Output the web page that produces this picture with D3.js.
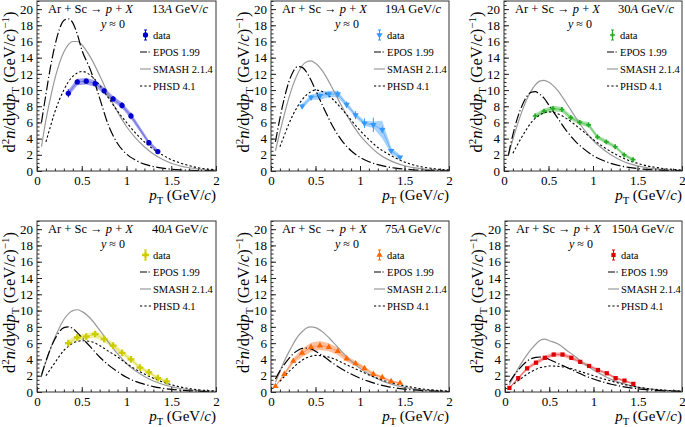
<!DOCTYPE html>
<html><head><meta charset="utf-8">
<script src="https://cdn.jsdelivr.net/npm/d3@7"></script>
<style>
body{margin:0;background:#fff}
svg{display:block}
text{font-family:"Liberation Serif","Times New Roman",serif;fill:#000}
</style>
</head><body>
<svg id="c" width="685" height="427"></svg>
<script>
// ---------- DATA ----------
const modelPt = [0.05,0.1,0.15,0.2,0.25,0.3,0.35,0.4,0.45,0.5,0.6,0.7,0.8,0.9,1.0,1.1,1.2,1.3,1.4,1.5,1.6,1.7,1.8,1.9,2.0];

const epos13  = [6.0,9.5,12.8,15.5,17.5,18.6,18.8,18.3,16.9,15.0,12.4,9.0,5.6,3.4,2.1,1.35,0.85,0.55,0.35,0.22,0.14,0.09,0.06,0.04,0.02];
const smash13 = [3.0,6.3,9.0,11.4,13.3,14.7,15.6,16.0,16.0,15.6,14.0,11.8,9.4,7.3,5.5,4.1,3.0,2.1,1.45,0.95,0.62,0.4,0.25,0.15,0.1];
const phsd13  = [null,3.6,5.5,7.3,8.8,10.0,11.0,11.7,12.1,12.3,11.8,10.6,9.0,7.4,6.0,4.7,3.6,2.7,2.0,1.4,1.0,0.65,0.4,0.25,0.15];

const epos19  = [3.6,6.5,9.0,11.0,12.3,12.9,12.8,12.2,11.2,10.0,7.6,5.4,3.7,2.5,1.7,1.15,0.78,0.52,0.35,0.23,0.15,0.1,0.06,0.04,0.03];
const smash19 = [2.5,4.8,7.0,9.0,10.7,12.0,13.0,13.5,13.6,13.3,12.0,10.0,7.9,6.0,4.4,3.2,2.2,1.5,1.0,0.65,0.42,0.27,0.17,0.11,0.07];
const phsd19  = [null,3.0,4.4,5.8,7.0,8.0,8.8,9.4,9.8,10.0,9.7,8.8,7.6,6.3,5.0,3.9,2.9,2.2,1.6,1.1,0.75,0.5,0.33,0.2,0.13];

const epos30  = [2.0,4.5,6.5,8.0,9.1,9.7,9.8,9.5,9.0,8.2,6.6,5.0,3.7,2.7,1.9,1.35,0.95,0.65,0.45,0.3,0.2,0.13,0.08,0.05,0.03];
const smash30 = [2.0,3.9,5.7,7.3,8.7,9.8,10.6,11.1,11.2,11.0,10.0,8.4,6.7,5.1,3.8,2.8,2.0,1.4,0.95,0.63,0.42,0.27,0.18,0.11,0.07];
const phsd30  = [null,2.2,3.2,4.2,5.1,5.9,6.5,6.9,7.2,7.3,7.1,6.5,5.7,4.8,3.9,3.1,2.4,1.8,1.3,0.95,0.65,0.45,0.3,0.2,0.12];

const epos40  = [2.0,3.8,5.3,6.5,7.4,7.9,8.0,7.8,7.3,6.7,5.5,4.3,3.3,2.5,1.8,1.3,0.95,0.67,0.47,0.32,0.22,0.15,0.1,0.06,0.04];
const smash40 = [2.2,3.7,5.3,6.7,7.9,8.9,9.6,10.0,10.1,9.9,9.0,7.6,6.1,4.7,3.5,2.6,1.9,1.35,0.95,0.65,0.43,0.28,0.18,0.12,0.08];
const phsd40  = [null,2.0,2.8,3.6,4.4,5.1,5.6,6.0,6.2,6.3,6.2,5.7,5.0,4.3,3.5,2.8,2.2,1.7,1.25,0.9,0.62,0.42,0.28,0.18,0.12];

const epos75  = [1.6,2.6,3.4,4.1,4.7,5.1,5.35,5.4,5.3,5.0,4.3,3.5,2.8,2.2,1.7,1.3,0.95,0.7,0.5,0.36,0.25,0.17,0.12,0.08,0.05];
const smash75 = [1.2,2.5,3.8,4.9,5.9,6.8,7.4,7.85,8.0,7.9,7.2,6.1,4.9,3.8,2.9,2.2,1.6,1.15,0.82,0.57,0.39,0.26,0.17,0.11,0.07];
const phsd75  = [null,1.3,1.9,2.5,3.0,3.5,3.9,4.2,4.4,4.5,4.4,4.1,3.6,3.1,2.6,2.1,1.65,1.3,1.0,0.75,0.55,0.38,0.26,0.17,0.11];

const epos150  = [1.2,2.0,2.7,3.3,3.8,4.1,4.25,4.3,4.25,4.0,3.5,3.0,2.5,2.0,1.6,1.25,0.95,0.72,0.54,0.4,0.29,0.2,0.14,0.1,0.07];
const smash150 = [0.9,1.9,2.9,3.8,4.6,5.3,5.9,6.35,6.5,6.3,5.9,5.1,4.3,3.4,2.7,2.1,1.55,1.15,0.85,0.6,0.42,0.29,0.2,0.13,0.09];
const phsd150  = [null,1.0,1.4,1.8,2.2,2.5,2.8,3.0,3.1,3.2,3.15,3.0,2.7,2.35,2.0,1.65,1.35,1.05,0.8,0.6,0.44,0.32,0.22,0.15,0.1];

const dataPt13 = [0.35,0.45,0.55,0.65,0.75,0.85,0.95,1.05,1.25,1.35];
const data13   = [9.6,11.0,11.1,10.8,9.9,8.9,8.1,6.8,3.5,2.4];
const stat13   = [0.5,0.3,0.3,0.3,0.3,0.3,0.4,0.4,0.3,0.3];
const sys13    = [0.4,0.4,0.4,0.4,0.4,0.35,0.35,0.35,0.3,0.3];

const dataPt19 = [0.35,0.45,0.55,0.65,0.75,0.85,0.95,1.05,1.15,1.25,1.35,1.45];
const data19   = [8.0,9.1,9.3,9.5,9.5,8.2,6.9,5.9,5.7,5.1,2.5,1.7];
const stat19   = [0.3,0.3,0.3,0.3,0.4,0.4,0.5,0.6,0.9,0.4,0.2,0.2];
const sys19    = [0.3,0.3,0.5,0.4,0.4,0.3,0.3,0.3,0.4,1.1,0.4,0.3];

const dataPt30 = [0.35,0.45,0.55,0.65,0.75,0.85,0.95,1.05,1.15,1.25,1.35,1.45];
const data30   = [6.8,7.4,7.7,7.6,6.6,6.0,5.7,4.2,3.6,3.0,2.0,1.4];
const stat30   = [0.25,0.25,0.25,0.25,0.25,0.25,0.3,0.25,0.25,0.25,0.2,0.2];
const sys30    = [0.3,0.3,0.35,0.3,0.3,0.3,0.3,0.25,0.25,0.2,0.2,0.2];

const dataPt40 = [0.35,0.45,0.55,0.65,0.75,0.85,0.95,1.05,1.15,1.25,1.35,1.45];
const data40   = [6.0,6.7,6.8,7.1,6.5,5.7,4.8,4.0,3.0,2.4,1.7,1.3];
const stat40   = [0.3,0.25,0.25,0.25,0.25,0.25,0.25,0.25,0.2,0.2,0.2,0.2];
const sys40    = [0.35,0.35,0.35,0.4,0.35,0.35,0.3,0.3,0.25,0.2,0.2,0.2];

const dataPt75 = [0.05,0.15,0.25,0.35,0.45,0.55,0.65,0.75,0.85,0.95,1.05,1.15,1.25,1.35,1.45];
const data75   = [0.7,2.2,3.8,4.8,5.5,5.7,5.5,5.0,4.1,3.5,2.9,2.2,1.8,1.3,1.1];
const stat75   = [0.1,0.15,0.2,0.2,0.2,0.2,0.2,0.2,0.2,0.15,0.15,0.15,0.15,0.1,0.1];
const sys75    = [0.1,0.2,0.3,0.5,0.55,0.55,0.5,0.45,0.35,0.3,0.25,0.2,0.15,0.15,0.1];

const dataPt150 = [0.05,0.15,0.25,0.35,0.45,0.55,0.65,0.75,0.85,0.95,1.05,1.15,1.25,1.35,1.45];
const data150   = [0.5,1.7,2.9,3.6,4.2,4.6,4.6,4.2,3.7,3.2,2.7,2.3,1.7,1.4,1.0];
const stat150   = [0.1,0.15,0.15,0.15,0.15,0.15,0.15,0.15,0.15,0.15,0.15,0.1,0.1,0.1,0.1];
const sys150    = [0.1,0.15,0.2,0.25,0.25,0.25,0.25,0.25,0.2,0.2,0.2,0.15,0.15,0.15,0.1];

const energies = ["13","19","30","40","75","150"];
const xTicks = [0, 0.5, 1, 1.5, 2];
const yTicks = [0,2,4,6,8,10,12,14,16,18,20];
const modelNames = ["EPOS 1.99","SMASH 2.1.4","PHSD 4.1"];

// ---------- LAYOUT / STYLE ----------
const panels = [
  {L:37, R:216, T:1,   B:171, e:0, epos:epos13,  smash:smash13,  phsd:phsd13,  px:dataPt13,  v:data13,  st:stat13,  sy:sys13,  col:"#0000cc", band:"#a0a0f0", line:"#7070e8", sym:"circle"},
  {L:271,R:449, T:1,   B:171, e:1, epos:epos19,  smash:smash19,  phsd:phsd19,  px:dataPt19,  v:data19,  st:stat19,  sy:sys19,  col:"#3399ff", band:"#a6d2ff", line:"#66b2ff", sym:"tdown"},
  {L:504,R:682, T:1,   B:171, e:2, epos:epos30,  smash:smash30,  phsd:phsd30,  px:dataPt30,  v:data30,  st:stat30,  sy:sys30,  col:"#22aa22", band:"#a4e0a4", line:"#66cc66", sym:"plus"},
  {L:37, R:216, T:221, B:392, e:3, epos:epos40,  smash:smash40,  phsd:phsd40,  px:dataPt40,  v:data40,  st:stat40,  sy:sys40,  col:"#cccc00", band:"#f0f0a0", line:"#dddd55", sym:"cross"},
  {L:271,R:449, T:221, B:392, e:4, epos:epos75,  smash:smash75,  phsd:phsd75,  px:dataPt75,  v:data75,  st:stat75,  sy:sys75,  col:"#ff6600", band:"#ffc0a0", line:"#ff9966", sym:"tup"},
  {L:505,R:682, T:221, B:392, e:5, epos:epos150, smash:smash150, phsd:phsd150, px:dataPt150, v:data150, st:stat150, sy:sys150, col:"#dd0000", band:"#ffa8a8", line:"#ee6666", sym:"square"}
];

const svg = d3.select("#c");
const symGen = {
  circle: d3.symbol().type(d3.symbolCircle).size(22),
  tdown: d3.symbol().type(d3.symbolTriangle).size(17),
  tup: d3.symbol().type(d3.symbolTriangle).size(17),
  square: d3.symbol().type(d3.symbolSquare).size(18),
  cross: d3.symbol().type(d3.symbolCross).size(26),
  plus: d3.symbol().type(d3.symbolCross).size(13)
};
function drawMarker(g, sym, col, cx, cy){
  g.append("path").attr("d", symGen[sym]()).attr("fill", col)
    .attr("transform", `translate(${cx},${cy})` + (sym==="tdown" ? " rotate(180)" : ""));
}

panels.forEach((p, i) => {
  const x = d3.scaleLinear().domain([0,2]).range([p.L, p.R]);
  const y = d3.scaleLinear().domain([0,21]).range([p.B, p.T]);
  const g = svg.append("g");
  const cid = "clip" + i;
  svg.append("clipPath").attr("id", cid).append("rect")
    .attr("x", p.L).attr("y", p.T).attr("width", p.R-p.L).attr("height", p.B-p.T);
  const pg = g.append("g").attr("clip-path", `url(#${cid})`);

  // data band (systematic)
  const pts = p.px.map((d,k) => ({x:d, v:p.v[k], s:p.st[k], sy:p.sy[k]}));
  pg.append("path").datum(pts)
    .attr("d", d3.area().x(d=>x(d.x)).y0(d=>y(d.v-d.sy)).y1(d=>y(d.v+d.sy)))
    .attr("fill", p.band).attr("stroke","none");
  pg.append("path").datum(pts)
    .attr("d", d3.line().x(d=>x(d.x)).y(d=>y(d.v)))
    .attr("fill","none").attr("stroke", p.line).attr("stroke-width",1);

  // models
  const mline = d3.line().defined(d=>d[1]!==null).curve(d3.curveMonotoneX)
    .x(d=>x(d[0])).y(d=>y(d[1]));
  const mk = arr => modelPt.map((t,k)=>[t, arr[k]]);
  pg.append("path").attr("d", mline(mk(p.smash))).attr("fill","none")
    .attr("stroke","#9a9a9a").attr("stroke-width",1.2);
  pg.append("path").attr("d", mline(mk(p.phsd))).attr("fill","none")
    .attr("stroke","#000").attr("stroke-width",1.1).attr("stroke-dasharray","2.2,2.2");
  pg.append("path").attr("d", mline(mk(p.epos))).attr("fill","none")
    .attr("stroke","#000").attr("stroke-width",1.2).attr("stroke-dasharray","10,2.5,1.2,2.5");

  // stat errors + markers
  pts.forEach(d => {
    pg.append("line").attr("x1",x(d.x)).attr("x2",x(d.x)).attr("y1",y(d.v-d.s)).attr("y2",y(d.v+d.s))
      .attr("stroke",p.col).attr("stroke-width",1);
    drawMarker(pg, p.sym, p.col, x(d.x), y(d.v));
  });

  // axes
  const xa = g.append("g").attr("transform",`translate(0,${p.B})`)
    .call(d3.axisBottom(x).tickValues(xTicks).tickSize(-5).tickPadding(5).tickFormat(d=>String(d)));
  const xm = g.append("g").attr("transform",`translate(0,${p.B})`)
    .call(d3.axisBottom(x).tickValues(d3.range(0,21).map(k=>k/10)).tickSize(-2.5).tickFormat(""));
  const ya = g.append("g").attr("transform",`translate(${p.L},0)`)
    .call(d3.axisLeft(y).tickValues(yTicks).tickSize(-5).tickPadding(4));
  const ym = g.append("g").attr("transform",`translate(${p.L},0)`)
    .call(d3.axisLeft(y).tickValues(d3.range(0,43).map(k=>k/2)).tickSize(-2.5).tickFormat(""));
  [xa,xm,ya,ym].forEach(a => { a.attr("font-family",null).attr("font-size",null); a.select(".domain").remove(); a.selectAll("line").attr("stroke","#222"); });
  [xa,ya].forEach(a => a.selectAll("text").style("font-family",'"Liberation Serif",serif').style("font-size","13px").attr("fill","#000"));

  g.append("rect").attr("x",p.L).attr("y",p.T).attr("width",p.R-p.L).attr("height",p.B-p.T)
    .attr("fill","none").attr("stroke","#333").attr("stroke-width",1);

  // header texts
  const hy = p.T + 12;
  const t1 = g.append("text").attr("x", p.L+11).attr("y", hy).style("font-size","12.5px");
  t1.append("tspan").text("Ar + Sc \u2192 ");
  t1.append("tspan").attr("font-style","italic").text("p");
  t1.append("tspan").text(" + ");
  t1.append("tspan").attr("font-style","italic").text("X");
  const t2 = g.append("text").attr("x", p.R-8).attr("y", hy).attr("text-anchor","end").style("font-size","12.5px");
  t2.append("tspan").text(energies[p.e]);
  t2.append("tspan").attr("font-style","italic").text("A");
  t2.append("tspan").text(" GeV/");
  t2.append("tspan").attr("font-style","italic").text("c");
  const t3 = g.append("text").attr("x", p.L+76).attr("y", p.T+26.5).attr("text-anchor","middle").style("font-size","12px");
  t3.append("tspan").attr("font-style","italic").text("y");
  t3.append("tspan").text(" \u2248 0");

  // legend
  const lx = p.L + 108.5, tx = p.L + 116;
  const ly = [p.T+34, p.T+51, p.T+68, p.T+85];
  g.append("line").attr("x1",lx).attr("x2",lx).attr("y1",ly[0]-5).attr("y2",ly[0]+5).attr("stroke",p.col);
  g.append("line").attr("x1",lx-1.5).attr("x2",lx+1.5).attr("y1",ly[0]-5).attr("y2",ly[0]-5).attr("stroke",p.col);
  g.append("line").attr("x1",lx-1.5).attr("x2",lx+1.5).attr("y1",ly[0]+5).attr("y2",ly[0]+5).attr("stroke",p.col);
  drawMarker(g, p.sym, p.col, lx, ly[0]);
  g.append("text").attr("x",tx).attr("y",ly[0]+4).style("font-size","10.5px").text("data");
  const styles = [
    {c:"#000", w:1.2, da:"7,1.5,1.2,1.5"},
    {c:"#9a9a9a", w:1.2, da:null},
    {c:"#000", w:1.1, da:"2.2,2.2"}
  ];
  modelNames.forEach((nm,k) => {
    const l = g.append("line").attr("x1",p.L+103).attr("x2",p.L+114).attr("y1",ly[k+1]).attr("y2",ly[k+1])
      .attr("stroke",styles[k].c).attr("stroke-width",styles[k].w);
    if (styles[k].da) l.attr("stroke-dasharray", styles[k].da);
    g.append("text").attr("x",tx).attr("y",ly[k+1]+4).style("font-size","10.5px").text(nm);
  });

  // x title
  const xt = g.append("text").attr("x", p.R).attr("y", p.B+29).attr("text-anchor","end").style("font-size","15px");
  xt.append("tspan").attr("font-style","italic").text("p");
  xt.append("tspan").attr("dy",4).style("font-size","10.5px").text("T");
  xt.append("tspan").attr("dy",-4).text(" (GeV/");
  xt.append("tspan").attr("font-style","italic").text("c");
  xt.append("tspan").text(")");

  // y title
  const cy = (p.T + p.B)/2 - 4;
  const yt = g.append("text").attr("transform",`translate(${p.L-22},${cy}) rotate(-90)`)
    .attr("text-anchor","middle").style("font-size","16.5px");
  yt.append("tspan").text("d");
  yt.append("tspan").attr("dy",-6).style("font-size","11px").text("2");
  yt.append("tspan").attr("dy",6).attr("font-style","italic").text("n");
  yt.append("tspan").text("/d");
  yt.append("tspan").attr("font-style","italic").text("y");
  yt.append("tspan").text("d");
  yt.append("tspan").attr("font-style","italic").text("p");
  yt.append("tspan").attr("dy",4).style("font-size","11px").text("T");
  yt.append("tspan").attr("dy",-4).text(" (GeV/");
  yt.append("tspan").attr("font-style","italic").text("c");
  yt.append("tspan").text(")");
  yt.append("tspan").attr("dy",-6).style("font-size","11px").text("\u22121");
  yt.append("tspan").attr("dy",6).text(")");
});
</script>
</body></html>
